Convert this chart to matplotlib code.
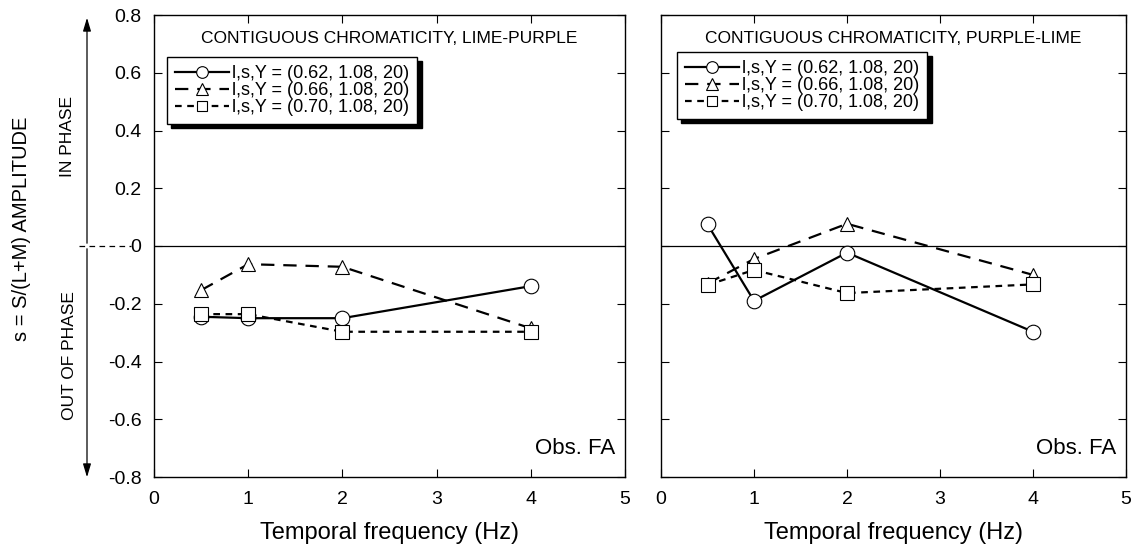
import numpy as np
import matplotlib
matplotlib.use('Agg')
import matplotlib.pyplot as plt
from matplotlib.patches import FancyArrowPatch

plt.rcParams['font.family'] = ['Liberation Sans', 'DejaVu Sans']

freqs = [0.5, 1, 2, 4]

# lime-purple (left panel)
lp_062 = [-0.245, -0.25, -0.25, -0.139]
lp_066 = [-0.153, -0.063, -0.072, -0.285]
lp_070 = [-0.236, -0.236, -0.297, -0.297]

# purple-lime (right panel)
pl_062 = [0.075, -0.19, -0.023, -0.297]
pl_066 = [-0.13, -0.045, 0.077, -0.10]
pl_070 = [-0.135, -0.083, -0.163, -0.133]

labels = ['l,s,Y = (0.62, 1.08, 20)', 'l,s,Y = (0.66, 1.08, 20)', 'l,s,Y = (0.70, 1.08, 20)']
titles = ['CONTIGUOUS CHROMATICITY, LIME-PURPLE', 'CONTIGUOUS CHROMATICITY, PURPLE-LIME']
xticks = [0, 1, 2, 3, 4, 5]
yticks = [-0.8, -0.6, -0.4, -0.2, 0, 0.2, 0.4, 0.6, 0.8]
ytick_labels = ['-0.8', '-0.6', '-0.4', '-0.2', '0', '0.2', '0.4', '0.6', '0.8']

styles = [
    dict(ls='-', marker='o', ms=10.5),
    dict(ls=(0, (6, 4)), marker='^', ms=10),
    dict(ls=(0, (3, 2.5)), marker='s', ms=9.5),
]

W, H = 1135, 550
fig = plt.figure(figsize=(W / 100, H / 100), dpi=100)
ax1 = fig.add_axes([154 / W, 73 / H, 471 / W, 462 / H])
ax2 = fig.add_axes([661 / W, 73 / H, 465 / W, 462 / H])


def draw_panel(ax, series, title, leg_anchor, show_ylabels):
    ax.axhline(0, color='black', lw=0.9, zorder=1)
    for ys, st, lab in zip(series, styles, labels):
        ax.plot(freqs, ys, color='black', ls=st['ls'], lw=1.6, marker=st['marker'],
                ms=st['ms'], mfc='white', mec='black', mew=0.8, label=lab, zorder=3)
    ax.set_xlim(0, 5)
    ax.set_ylim(-0.8, 0.8)
    ax.set_xticks(xticks)
    ax.set_yticks(yticks)
    if show_ylabels:
        ax.set_yticklabels(ytick_labels)
    else:
        ax.set_yticklabels([])
    ax.tick_params(direction='in', length=6, width=0.8, top=True, right=True,
                   labelsize=14)
    ax.tick_params(axis='x', pad=10)
    ax.tick_params(axis='y', pad=9)
    for sp in ax.spines.values():
        sp.set_linewidth(1.0)
    ax.set_xlabel('Temporal frequency (Hz)', fontsize=17, labelpad=10)
    ax.text(0.5, 0.95, title, transform=ax.transAxes, ha='center', va='center', fontsize=12.5)
    ax.text(0.979, 0.061, 'Obs. FA', transform=ax.transAxes, ha='right', va='center', fontsize=16)
    leg = ax.legend(loc='upper left', bbox_to_anchor=leg_anchor, fontsize=13,
                    handlelength=3.0, handletextpad=0.15, labelspacing=0.0, markerscale=0.8,
                    borderpad=0.45, borderaxespad=0, numpoints=1, fancybox=False, framealpha=1,
                    edgecolor='black', shadow={'color': 'black', 'alpha': 1, 'ox': 3, 'oy': -3})
    leg.get_frame().set_linewidth(1.0)


draw_panel(ax1, [lp_062, lp_066, lp_070], titles[0], (13 / 471, 1 - 42 / 462), True)
draw_panel(ax2, [pl_062, pl_066, pl_070], titles[1], (16 / 465, 1 - 37 / 462), False)

# phase arrows and labels on the left
ax_x = 87 / W
y0 = 1 - 246 / H
arrow_style = '-|>,head_width=0.3,head_length=1.0'
fig.add_artist(FancyArrowPatch((ax_x, y0), (ax_x, 1 - 15 / H), transform=fig.transFigure,
                               arrowstyle=arrow_style, mutation_scale=8, color='black', lw=0.9))
fig.add_artist(FancyArrowPatch((ax_x, y0), (ax_x, 1 - 480 / H), transform=fig.transFigure,
                               arrowstyle=arrow_style, mutation_scale=8, color='black', lw=0.9))
fig.add_artist(plt.Line2D([79 / W, 131 / W], [y0, y0], transform=fig.transFigure, color='black',
                          lw=0.9, ls=(0, (4.5, 3.5))))
fig.text(67 / W, 1 - 137 / H, 'IN PHASE', rotation=90, ha='center', va='center', fontsize=12.5)
fig.text(70 / W, 1 - 356 / H, 'OUT OF PHASE', rotation=90, ha='center', va='center', fontsize=12.5)
fig.text(22 / W, 1 - 229 / H, 's = S/(L+M) AMPLITUDE', rotation=90, ha='center', va='center', fontsize=14.5)

fig.savefig('out.png', dpi=100)
